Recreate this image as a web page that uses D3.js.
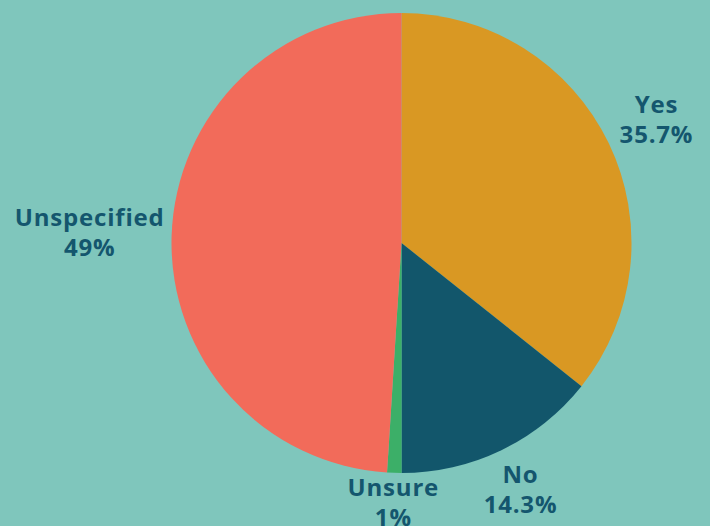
<!DOCTYPE html>
<html><head><meta charset="utf-8">
<script src="https://cdn.jsdelivr.net/npm/d3@7"></script>
<style>
html,body{margin:0;padding:0;background:#7fc6bc;}
svg{display:block;}
</style></head>
<body>
<svg id="chart" width="710" height="526"></svg>
<script>
const categories = ["Yes", "No", "Unsure", "Unspecified"];
const values = [35.7, 14.3, 1, 49];
const valueLabels = ["35.7%", "14.3%", "1%", "49%"];
const colors = ["#d99823", "#12566b", "#3caf68", "#f26b5a"];
// layout: radial distance of each label block centre from the pie centre
const labelRadius = [283, 274, 260, 312];

const W = 710, H = 526, R = 230, cx = 401.5, cy = 243;
const svg = d3.select("#chart");
svg.append("rect").attr("width", W).attr("height", H).attr("fill", "#7fc6bc");

const data = categories.map((c, i) => ({cat: c, value: values[i], label: valueLabels[i], color: colors[i], lr: labelRadius[i]}));
const pie = d3.pie().value(d => d.value).sort(null);
const arc = d3.arc().innerRadius(0).outerRadius(R);
const arcs = pie(data);

const g = svg.append("g").attr("transform", `translate(${cx},${cy})`);
g.selectAll("path").data(arcs).join("path")
  .attr("d", arc).attr("fill", d => d.data.color);

const fs = 24, lh = 30;
const lab = g.selectAll("text.lab").data(arcs).join("text")
  .attr("class", "lab")
  .attr("font-family", "'Open Sans', sans-serif")
  .attr("font-weight", 700)
  .attr("font-size", fs)
  .attr("letter-spacing", "0.8px")
  .attr("fill", "#14566e")
  .attr("text-anchor", "middle")
  .attr("transform", d => {
    const a = (d.startAngle + d.endAngle) / 2;
    const x = Math.sin(a) * d.data.lr;
    const y = -Math.cos(a) * d.data.lr;
    return `translate(${x},${y})`;
  });
lab.append("tspan").attr("x", 0).attr("y", -lh / 2 + 8).text(d => d.data.cat);
lab.append("tspan").attr("x", 0).attr("y", lh / 2 + 8).text(d => d.data.label);
</script>
</body></html>
